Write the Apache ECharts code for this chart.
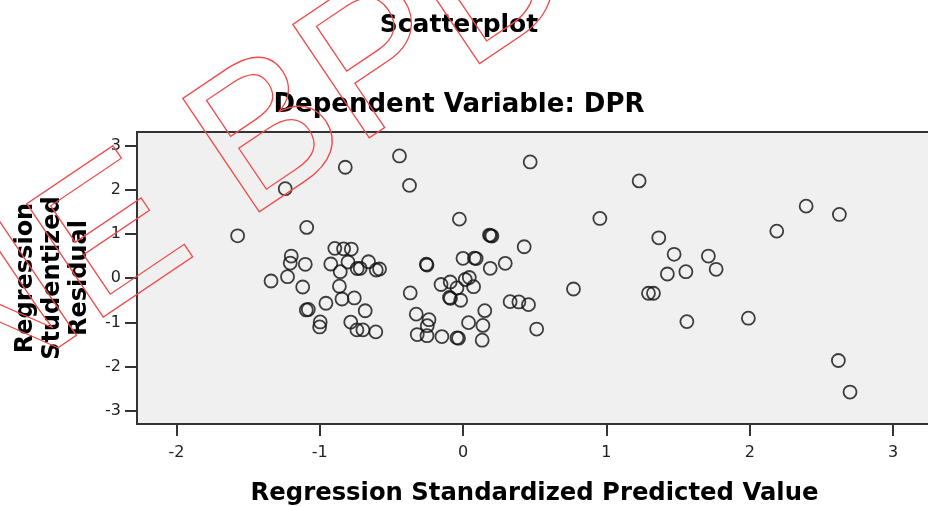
<!DOCTYPE html>
<html>
<head>
<meta charset="utf-8">
<script src="https://cdn.jsdelivr.net/npm/echarts@6/dist/echarts.min.js"></script>
<style>
  html, body { margin: 0; padding: 0; background: #fff; }
  #chart { width: 928px; height: 507px; }
</style>
</head>
<body>
<div id="chart"></div>
<script>
// Regression Standardized Predicted Value (x)
var predicted = [
    -1.573, -1.241, -1.091, -0.822, -0.444, -0.374, -0.026, 0.468, 1.228, 0.954,
    0.184, 0.201, 0.192, 2.188, 2.393, 2.625, 1.365, 0.426, 1.472, 1.711,
    1.765, 1.425, 1.554, 0.770, 1.293, 1.328, 1.561, 1.990, 2.618, 2.699,
    -1.340, -1.225, -1.199, -1.206, -1.101, -1.119, -1.094, -1.080, -0.957, -0.997,
    -1.001, -0.895, -0.834, -0.780, -0.923, -0.857, -0.803, -0.718, -0.739, -0.660,
    -0.606, -0.583, -0.863, -0.845, -0.759, -0.683, -0.784, -0.741, -0.699, -0.609,
    -0.369, -0.257, -0.252, -0.327, -0.238, -0.250, -0.320, -0.252, -0.148, -0.043,
    -0.032, -0.154, -0.090, -0.095, -0.088, -0.043, -0.017, 0.015, 0.043, 0.073,
    -0.001, 0.079, 0.091, 0.189, 0.294, 0.151, 0.328, 0.389, 0.456, 0.038,
    0.138, 0.513, 0.133
];
// Regression Studentized Residual (y)
var residual = [
    0.959, 2.025, 1.149, 2.510, 2.765, 2.099, 1.336, 2.630, 2.201, 1.352,
    0.975, 0.953, 0.964, 1.065, 1.630, 1.442, 0.914, 0.711, 0.540, 0.501,
    0.201, 0.095, 0.147, -0.244, -0.341, -0.341, -0.982, -0.905, -1.862, -2.576,
    -0.063, 0.034, 0.501, 0.343, 0.314, -0.199, -0.718, -0.707, -0.567, -0.989,
    -1.102, 0.675, 0.664, 0.659, 0.321, 0.147, 0.366, 0.223, 0.219, 0.372,
    0.185, 0.208, -0.181, -0.470, -0.447, -0.736, -0.993, -1.169, -1.169, -1.214,
    -0.334, 0.316, 0.298, -0.813, -0.939, -1.074, -1.275, -1.300, -1.321, -1.350,
    -1.357, -0.142, -0.086, -0.436, -0.454, -0.221, -0.499, -0.029, 0.016, -0.192,
    0.449, 0.456, 0.445, 0.223, 0.336, -0.734, -0.530, -0.537, -0.598, -1.005,
    -1.068, -1.151, -1.402
];
var xTicks = [-2, -1, 0, 1, 2, 3];
var yTicks = [-3, -2, -1, 0, 1, 2, 3];

var points = [];
for (var i = 0; i < predicted.length; i++) {
    points.push([predicted[i], residual[i]]);
}

var chart = echarts.init(document.getElementById('chart'));
var option = {
    animation: false,
    title: [
        {
            text: 'Scatterplot',
            left: 459, top: 13, textAlign: 'center', padding: 0,
            textStyle: { fontFamily: 'DejaVu Sans', fontWeight: 'bold', fontSize: 25, color: '#000' }
        },
        {
            text: 'Dependent Variable: DPR',
            left: 459, top: 92, textAlign: 'center', padding: 0,
            textStyle: { fontFamily: 'DejaVu Sans', fontWeight: 'bold', fontSize: 26, color: '#000' }
        }
    ],
    grid: {
        left: 137, top: 132, right: -4, bottom: 83,
        outerBoundsMode: 'none',
        containLabel: false,
        show: true,
        backgroundColor: '#f0f0f0',
        borderColor: '#333',
        borderWidth: 2
    },
    xAxis: {
        type: 'value',
        min: -2.275, max: 3.271,
        name: 'Regression Standardized Predicted Value',
        nameLocation: 'middle',
        nameGap: 58,
        nameTextStyle: { fontFamily: 'DejaVu Sans', fontWeight: 'bold', fontSize: 24.3, color: '#000' },
        axisLine: { show: false, onZero: false },
        splitLine: { show: false },
        axisTick: { show: true, length: 12, customValues: xTicks, lineStyle: { color: '#333', width: 2 } },
        axisLabel: { customValues: xTicks, margin: 21, fontFamily: 'DejaVu Sans', fontSize: 16, color: '#222' }
    },
    yAxis: {
        type: 'value',
        min: -3.298, max: 3.307,
        name: 'Regression\nStudentized\nResidual',
        nameLocation: 'middle',
        nameRotate: 90,
        nameGap: 44,
        nameTextStyle: { fontFamily: 'DejaVu Sans', fontWeight: 'bold', fontSize: 24, lineHeight: 27, color: '#000' },
        axisLine: { show: false, onZero: false },
        splitLine: { show: false },
        axisTick: { show: true, length: 12, customValues: yTicks, lineStyle: { color: '#333', width: 2 } },
        axisLabel: { customValues: yTicks, margin: 16, fontFamily: 'DejaVu Sans', fontSize: 16, color: '#222' }
    },
    series: [
        {
            type: 'scatter',
            data: points,
            symbol: 'circle',
            symbolSize: 13,
            itemStyle: { color: 'rgba(0,0,0,0)', borderColor: '#111', borderWidth: 1.8 }
        }
    ],
    // red outlined watermark lettering
    graphic: [
        {
            type: 'text',
            z: 100,
            x: -60, y: 361,
            rotation: 0.593,
            silent: true,
            style: {
                text: 'NE BPD',
                x: 0, y: 0,
                font: '199px "Liberation Sans"',
                textAlign: 'left',
                textVerticalAlign: 'middle',
                fill: 'rgba(0,0,0,0)',
                stroke: '#f04a4a',
                lineWidth: 1.3
            }
        }
    ]
};
chart.setOption(option);
</script>
</body>
</html>
